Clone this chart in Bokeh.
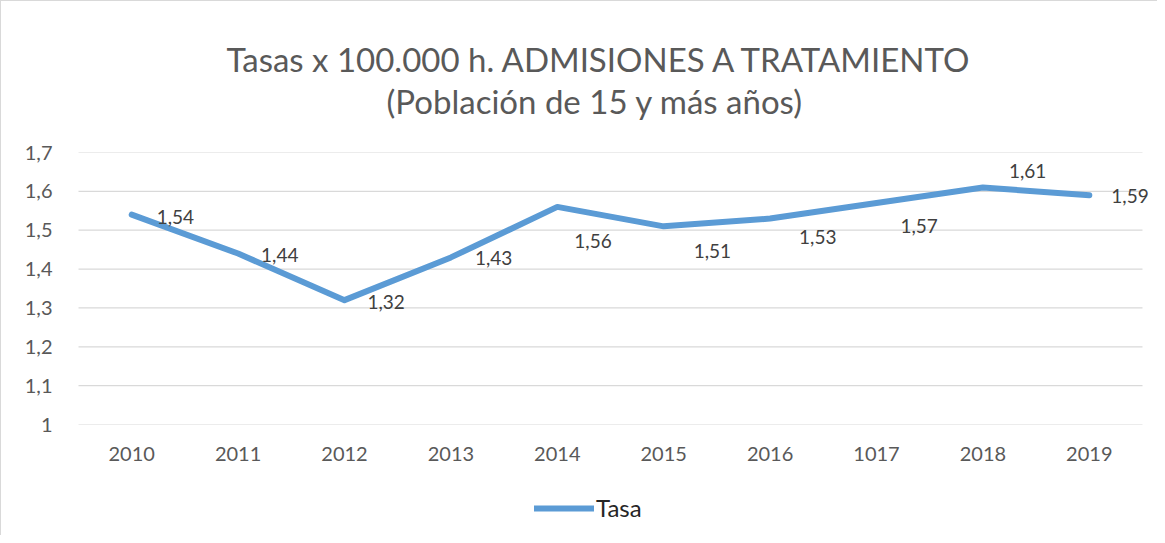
from bokeh.plotting import figure
from bokeh.layouts import column
from bokeh.models import (ColumnDataSource, FixedTicker, CustomJSTickFormatter, Legend,
                          LegendItem, Title, FactorRange)
from bokeh.core.properties import value
from bokeh.embed import file_html
from bokeh.resources import INLINE

years = ["2010", "2011", "2012", "2013", "2014", "2015", "2016", "1017", "2018", "2019"]
tasa = [1.54, 1.44, 1.32, 1.43, 1.56, 1.51, 1.53, 1.57, 1.61, 1.59]
labels = ["1,54", "1,44", "1,32", "1,43", "1,56", "1,51", "1,53", "1,57", "1,61", "1,59"]
y_ticks = [1.0, 1.1, 1.2, 1.3, 1.4, 1.5, 1.6, 1.7]
series_name = "Tasa"

# label placement (screen px offsets from each point)
lab_dx = [25, 23, 23, 24, 17, 30, 29, 24, 26, 22]
lab_dy = [2, 1, 2, 1, 34, 25, 18, 23, -16, 1]

FONT = "Lato"
GREY = "#595959"
LINE = "#5B9BD5"
BORDER = "1px solid #d9d9d9"

src = ColumnDataSource(dict(x=years, y=tasa, lab=labels, dx=lab_dx, dy=lab_dy))

# a little room to the right so that the last data label is not cut
xr = FactorRange(factors=years, range_padding=0.1504, range_padding_units="absolute")

p = figure(width=1157, height=480, x_range=xr, y_range=(1.0, 1.7),
           output_backend="svg", toolbar_location=None,
           min_border_left=61, min_border_right=0, min_border_top=151, min_border_bottom=57)
p.styles = {"border-left": BORDER, "border-top": BORDER}
p.outline_line_color = None
p.background_fill_color = "white"
p.border_fill_color = "white"

# Titles: spacer closest to the frame, then the two lines
spacer = Title(text=" ", text_font_size="1px", standoff=29)
t2 = Title(text="(Población de 15 y más años)", align="left", text_font=FONT, offset=324,
           text_font_size="33px", text_color=GREY, text_font_style="normal", standoff=0)
t1 = Title(text="Tasas x 100.000 h. ADMISIONES A TRATAMIENTO", align="left", text_font=FONT,
           offset=164, text_font_size="33px", text_color=GREY, text_font_style="normal", standoff=0)
p.add_layout(spacer, "above")
p.add_layout(t2, "above")
p.add_layout(t1, "above")

# horizontal gridlines spanning the category band only
grid_src = ColumnDataSource(dict(
    x0=[(years[0], -0.5)] * len(y_ticks),
    x1=[(years[-1], 0.5)] * len(y_ticks),
    y=y_ticks,
))
p.segment(x0="x0", y0="y", x1="x1", y1="y", source=grid_src,
          line_color="#d9d9d9", line_width=1.2)

p.line("x", "y", source=src, line_color=LINE, line_width=6,
       line_cap="round", line_join="round")

p.text("x", "y", text="lab", source=src, x_offset="dx", y_offset="dy",
       text_font=value(FONT), text_font_size="19px", text_color="#404040",
       text_align="left", text_baseline="middle")

p.xgrid.grid_line_color = None
p.ygrid.grid_line_color = None

p.yaxis.ticker = FixedTicker(ticks=y_ticks)
p.yaxis.formatter = CustomJSTickFormatter(code="""
    const v = Math.round(tick * 10) / 10;
    return v.toString().replace('.', ',');
""")
for ax in (p.xaxis[0], p.yaxis[0]):
    ax.axis_line_color = None
    ax.major_tick_line_color = None
    ax.minor_tick_line_color = None
    ax.major_label_text_font = FONT
    ax.major_label_text_font_size = "20px"
    ax.major_label_text_color = GREY
p.yaxis.major_label_standoff = 4
p.xaxis.major_label_standoff = 16

# Legend strip below the chart
pl = figure(width=1157, height=55, x_range=FactorRange(factors=years), y_range=(0, 1),
            x_axis_location=None, y_axis_location=None,
            output_backend="svg", toolbar_location=None,
            min_border_left=0, min_border_right=0, min_border_top=0, min_border_bottom=0)
pl.styles = {"border-left": BORDER}
pl.grid.visible = False
pl.outline_line_color = None
pl.background_fill_color = "white"
pl.border_fill_color = "white"
lr = pl.line("x", "y", source=src, line_color=LINE, line_width=6, line_cap="round")
legend = Legend(items=[LegendItem(label=series_name, renderers=[lr])],
                location=(472, 13), orientation="horizontal",
                glyph_width=60, glyph_height=22, label_standoff=2,
                padding=0, margin=0, spacing=0,
                label_text_font=FONT, label_text_font_size="24px", label_text_color="#262626",
                border_line_color=None, background_fill_alpha=0)
pl.add_layout(legend, "center")

layout = column(p, pl, spacing=0)
open("out.html", "w").write(file_html(layout, INLINE))
